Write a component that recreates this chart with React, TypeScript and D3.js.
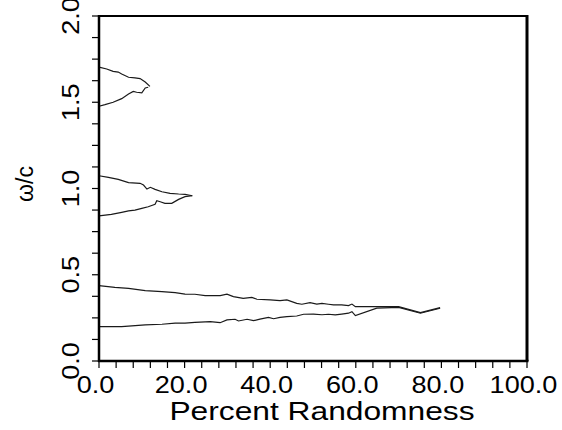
import React from "react";
import * as d3 from "d3";

// ---- data (percent randomness, omega/c) ----
const upper1: [number, number][] = [
  [0, 1.704], [1.8, 1.693], [3.3, 1.679], [4.5, 1.675], [5.3, 1.664], [6.9, 1.645],
  [8.4, 1.641], [9.6, 1.637], [10.8, 1.617], [11.9, 1.592],
];
const lower1: [number, number][] = [
  [0, 1.477], [1.4, 1.486], [3.3, 1.5], [5.3, 1.521], [6.9, 1.548], [8.0, 1.563],
  [8.8, 1.558], [10.0, 1.554], [10.8, 1.583], [11.5, 1.587],
];
const upper2: [number, number][] = [
  [0, 1.074], [2.2, 1.065], [4.5, 1.053], [6.9, 1.034], [9.6, 1.03], [10.4, 1.02],
  [11.2, 0.997], [12.0, 1.007], [13.1, 0.995], [14.7, 0.981], [16.6, 0.972],
  [18.6, 0.968], [20.1, 0.966], [21.8, 0.958],
];
const lower2: [number, number][] = [
  [0, 0.841], [2.9, 0.85], [5.3, 0.862], [6.9, 0.87], [8.4, 0.875], [10.0, 0.885],
  [11.5, 0.894], [13.1, 0.908], [13.5, 0.929], [14.3, 0.923], [15.4, 0.914],
  [17.0, 0.914], [18.6, 0.937], [20.1, 0.953], [21.8, 0.958],
];
const upper3: [number, number][] = [
  [0, 0.437], [3.7, 0.427], [6.9, 0.421], [10.8, 0.408], [14.7, 0.402], [17.8, 0.396],
  [20.1, 0.388], [22.4, 0.387], [24.8, 0.379], [26.0, 0.379], [28.3, 0.379],
  [29.9, 0.387], [31.4, 0.373], [33.7, 0.363], [35.7, 0.369], [36.9, 0.358],
  [40.0, 0.354], [42.3, 0.35], [43.9, 0.354], [46.2, 0.334], [47.4, 0.329],
  [49.3, 0.338], [50.9, 0.33], [52.1, 0.334], [53.6, 0.329], [54.8, 0.325],
  [56.7, 0.325], [58.3, 0.321], [59.1, 0.33], [59.9, 0.315], [64.5, 0.315],
  [70.0, 0.315], [75.1, 0.28], [79.7, 0.309],
];
const lower3: [number, number][] = [
  [0, 0.199], [5.3, 0.199], [10.8, 0.209], [14.7, 0.213], [17.8, 0.219], [20.1, 0.219],
  [22.4, 0.224], [26.0, 0.228], [28.3, 0.222], [29.9, 0.238], [31.8, 0.242],
  [32.6, 0.232], [34.6, 0.242], [36.1, 0.234], [37.6, 0.243], [39.6, 0.253],
  [40.8, 0.245], [42.3, 0.253], [43.9, 0.257], [46.2, 0.261], [47.8, 0.271],
  [50.1, 0.272], [52.1, 0.268], [53.6, 0.271], [55.2, 0.267], [56.7, 0.272],
  [58.3, 0.277], [59.1, 0.286], [59.9, 0.263], [64.9, 0.306], [70.0, 0.311],
  [75.1, 0.277], [79.7, 0.306],
];
const curves = [upper1, lower1, upper2, lower2, upper3, lower3];

const xMajor = [0, 20, 40, 60, 80, 100];
const xLabels = ["0.0", "20.0", "40.0", "60.0", "80.0", "100.0"];
const yMajor = [0, 0.5, 1.0, 1.5, 2.0];
const yLabels = ["0.0", "0.5", "1.0", "1.5", "2.0"];
const xMinorStep = 4;
const yMinorStep = 0.125;
const xTitle = "Percent Randomness";
const yTitle = "ω/c";

export default function App() {
  const W = 562, H = 430;
  const L = 99, R = 527, T = 16, B = 361;
  const x = d3.scaleLinear().domain([0, 100]).range([L, R]);
  const y = d3.scaleLinear().domain([0, 2]).range([B, T]);
  const line = d3.line<[number, number]>().x(d => x(d[0])).y(d => y(d[1]));
  const xMinor = d3.range(0, 100 + 1e-9, xMinorStep);
  const yMinor = d3.range(0, 2 + 1e-9, yMinorStep);
  const font = "'Liberation Sans', Arial, Helvetica, sans-serif";
  const tickLen = 7;
  return (
    <svg width={W} height={H} style={{ position: "absolute", left: 0, top: 0, background: "#fff" }}
      fontFamily={font}>
      {curves.map((c, i) => (
        <path key={i} d={line(c) || ""} fill="none" stroke="#1a1a1a" strokeWidth={1.2} />
      ))}
      {/* frame */}
      <line x1={L} x2={R} y1={T} y2={T} stroke="#000" strokeWidth={2} />
      <line x1={R} x2={R} y1={T - 1} y2={B} stroke="#000" strokeWidth={3} />
      <line x1={L} x2={L} y1={T - 1} y2={B + 1} stroke="#000" strokeWidth={2.5} />
      <line x1={L - 1} x2={R + 1.5} y1={B} y2={B} stroke="#000" strokeWidth={2.5} />
      {xMinor.map((v, i) => (
        <line key={"xt" + i} x1={x(v)} x2={x(v)} y1={B} y2={B + tickLen} stroke="#000" strokeWidth={1.2} />
      ))}
      {yMinor.map((v, i) => (
        <line key={"yt" + i} x1={L - tickLen} x2={L} y1={y(v)} y2={y(v)} stroke="#000" strokeWidth={1.2} />
      ))}
      {xMajor.map((v, i) => (
        <text key={"xl" + i} transform={`translate(${x(v) - 3.5},393) scale(1.13,1)`}
          textAnchor="middle" fontSize={24} fill="#000">{xLabels[i]}</text>
      ))}
      {yMajor.map((v, i) => (
        <text key={"yl" + i} transform={`translate(79,${y(v)}) rotate(-90) scale(1.13,1)`}
          textAnchor="middle" fontSize={24} fill="#000">{yLabels[i]}</text>
      ))}
      <text transform={`translate(322,420) scale(1.245,1)`} textAnchor="middle" fontSize={25.5} fill="#000">
        {xTitle}
      </text>
      <text transform={`translate(33,184) rotate(-90)`} textAnchor="middle" fontSize={23} fill="#000">
        {yTitle}
      </text>
    </svg>
  );
}
